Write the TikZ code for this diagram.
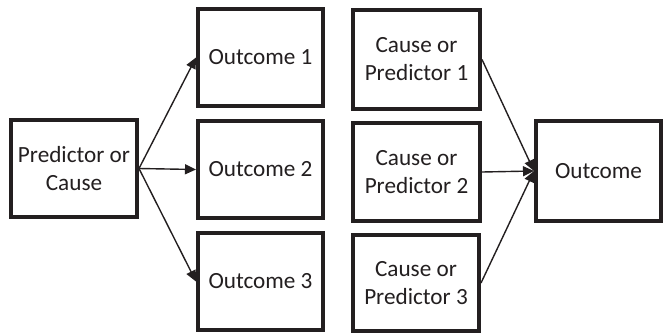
\documentclass[tikz,border=0pt]{standalone}
\usepackage{fontspec}
\setmainfont{Carlito}
\usetikzlibrary{arrows.meta}
\definecolor{ink}{HTML}{231F20}
\begin{document}
\begin{tikzpicture}[x=1pt,y=-1pt,
  box/.style={draw=ink, line width=4pt, outer sep=2pt, fill=white,
    inner sep=0pt, align=center, text=ink,
    font=\fontsize{23.2}{28}\selectfont},
  link/.style={draw=ink, line width=1.4pt,
    -{Triangle[length=11pt,width=10pt]}}]
\useasboundingbox (0,0) rectangle (664,335);
% one predictor, several outcomes
\node[box, minimum width=126pt, minimum height=97pt] (pc) at (74,168.5) {Predictor or\\Cause};
\node[box, minimum width=125pt, minimum height=97pt] (o1) at (260.5,57.5) {Outcome 1};
\node[box, minimum width=125pt, minimum height=97pt] (o2) at (260.5,169.5) {Outcome 2};
\node[box, minimum width=125pt, minimum height=97pt] (o3) at (260.5,281.5) {Outcome 3};
% several predictors, one outcome
\node[box, minimum width=127pt, minimum height=99pt] (c1) at (416.5,59.5) {Cause or\\Predictor 1};
\node[box, minimum width=127pt, minimum height=98pt] (c2) at (416.5,172) {Cause or\\Predictor 2};
\node[box, minimum width=126pt, minimum height=96pt] (c3) at (416,283) {Cause or\\Predictor 3};
\node[box, minimum width=125pt, minimum height=100pt] (out) at (598.5,171) {Outcome};
% connectors
\draw[link] (pc.east) -- (o1.west);
\draw[link] (pc.east) -- (o2.west);
\draw[link] (pc.east) -- (o3.west);
\draw[link] (c1.east) -- (out.west);
\draw[link] (c2.east) -- (out.west);
\draw[link] (c3.east) -- (out.west);
\end{tikzpicture}
\end{document}
